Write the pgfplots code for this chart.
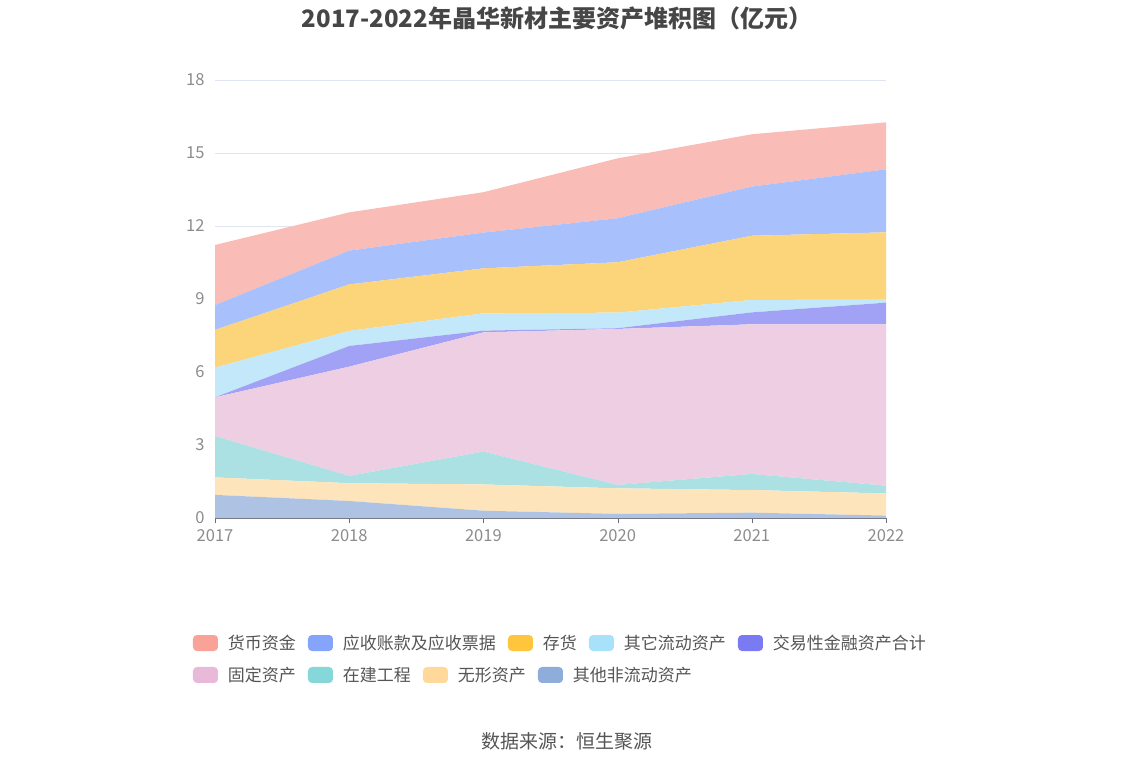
\documentclass[border=0pt]{standalone}
\usepackage{fontspec}
\setmainfont{Noto Sans CJK SC}
\usepackage{pgfplots}
\pgfplotsset{compat=1.18}
\definecolor{f1}{HTML}{F9BCB7}
\definecolor{f2}{HTML}{A8C0FC}
\definecolor{f3}{HTML}{FCD47A}
\definecolor{f4}{HTML}{C2E8F9}
\definecolor{f5}{HTML}{A1A2F5}
\definecolor{f6}{HTML}{EECEE3}
\definecolor{f7}{HTML}{ABE1E2}
\definecolor{f8}{HTML}{FDE4BB}
\definecolor{f9}{HTML}{AEC3E3}
\definecolor{l1}{HTML}{F8A298}
\definecolor{l2}{HTML}{85A4FC}
\definecolor{l3}{HTML}{FFC53D}
\definecolor{l4}{HTML}{A8E2FA}
\definecolor{l5}{HTML}{7A7BF2}
\definecolor{l6}{HTML}{E8B9D8}
\definecolor{l7}{HTML}{86D7D9}
\definecolor{l8}{HTML}{FFD89A}
\definecolor{l9}{HTML}{8EADDA}
\definecolor{tickc}{HTML}{8C8C8C}
\definecolor{gridc}{HTML}{E0E6F1}
\definecolor{axc}{HTML}{6E7079}
\definecolor{titlec}{HTML}{464646}
\definecolor{legc}{HTML}{555555}
\pgfplotsset{
  legstyle/.style={
    legend image code/.code={\path[##1, rounded corners=4pt] (0pt,-8pt) rectangle (25pt,8pt);},
    legend style={draw=none, fill=none, inner sep=0pt, outer sep=0pt,
      font=\fontsize{17}{20}\selectfont, text=legc,
      nodes={inner sep=0pt},
      /tikz/every odd column/.append style={column sep=10pt},
      /tikz/every even column/.append style={column sep=12pt}},
    legend cell align=left,
  }
}
\begin{document}
\begin{tikzpicture}
\path (0pt,0pt) rectangle (1134pt,-766pt);
\node[font=\fontsize{24}{28}\selectfont\bfseries, text=titlec] at (557pt,-18pt) {2017-2022年晶华新材主要资产堆积图（亿元）};
\node[font=\fontsize{19}{22}\selectfont, text=legc] at (567pt,-741pt) {数据来源：恒生聚源};
\begin{axis}[
  at={(215pt,-518pt)}, anchor=south west,
  width=671pt, height=438pt, scale only axis,
  xmin=2017, xmax=2022, ymin=0, ymax=18,
  xtick={2017,2018,2019,2020,2021,2022},
  ytick={0,3,6,9,12,15,18},
  xticklabel style={/pgf/number format/1000 sep={}},
  /pgf/number format/assume math mode=true,
  tick label style={font=\fontsize{16.5}{19}\selectfont, text=tickc},
  axis lines=left, axis line style={-},
  y axis line style={draw=none},
  x axis line style={draw=axc},
  ytick style={draw=none},
  xtick style={draw=axc},
  tick align=outside,
  major tick length=5pt,
  ymajorgrids, grid style={gridc, line width=0.8pt},
  yticklabel style={xshift=-2pt},
  xticklabel style={yshift=-3pt},
  stack plots=y,
  legstyle,
  legend columns=5,
  legend style={at={(-0.0328,-0.2854)}, anchor=west},
]
\addplot[fill=f9, draw=none, forget plot] coordinates {(2017,0.95) (2018,0.70) (2019,0.30) (2020,0.17) (2021,0.22) (2022,0.10)} \closedcycle;
\addplot[fill=f8, draw=none, forget plot] coordinates {(2017,0.72) (2018,0.73) (2019,1.08) (2020,1.05) (2021,0.93) (2022,0.91)} \closedcycle;
\addplot[fill=f7, draw=none, forget plot] coordinates {(2017,1.70) (2018,0.30) (2019,1.35) (2020,0.14) (2021,0.66) (2022,0.32)} \closedcycle;
\addplot[fill=f6, draw=none, forget plot] coordinates {(2017,1.59) (2018,4.49) (2019,4.90) (2020,6.41) (2021,6.15) (2022,6.63)} \closedcycle;
\addplot[fill=f5, draw=none, forget plot] coordinates {(2017,0.00) (2018,0.85) (2019,0.07) (2020,0.03) (2021,0.49) (2022,0.89)} \closedcycle;
\addplot[fill=f4, draw=none, forget plot] coordinates {(2017,1.22) (2018,0.62) (2019,0.71) (2020,0.64) (2021,0.51) (2022,0.14)} \closedcycle;
\addplot[fill=f3, draw=none, forget plot] coordinates {(2017,1.55) (2018,1.91) (2019,1.85) (2020,2.07) (2021,2.64) (2022,2.75)} \closedcycle;
\addplot[fill=f2, draw=none, forget plot] coordinates {(2017,1.02) (2018,1.39) (2019,1.47) (2020,1.81) (2021,2.02) (2022,2.59)} \closedcycle;
\addplot[fill=f1, draw=none, forget plot] coordinates {(2017,2.47) (2018,1.57) (2019,1.66) (2020,2.46) (2021,2.15) (2022,1.93)} \closedcycle;
\addlegendimage{fill=l1, draw=none}
\addlegendentry{货币资金}
\addlegendimage{fill=l2, draw=none}
\addlegendentry{应收账款及应收票据}
\addlegendimage{fill=l3, draw=none}
\addlegendentry{存货}
\addlegendimage{fill=l4, draw=none}
\addlegendentry{其它流动资产}
\addlegendimage{fill=l5, draw=none}
\addlegendentry{交易性金融资产合计}
\end{axis}
\begin{axis}[
  at={(215pt,-518pt)}, anchor=south west,
  width=671pt, height=438pt, scale only axis,
  xmin=2017, xmax=2022, ymin=0, ymax=18,
  hide axis,
  legstyle,
  legend columns=4,
  legend style={at={(-0.0328,-0.3584)}, anchor=west},
]
\addlegendimage{fill=l6, draw=none}
\addlegendentry{固定资产}
\addlegendimage{fill=l7, draw=none}
\addlegendentry{在建工程}
\addlegendimage{fill=l8, draw=none}
\addlegendentry{无形资产}
\addlegendimage{fill=l9, draw=none}
\addlegendentry{其他非流动资产}
\end{axis}
\end{tikzpicture}
\end{document}
